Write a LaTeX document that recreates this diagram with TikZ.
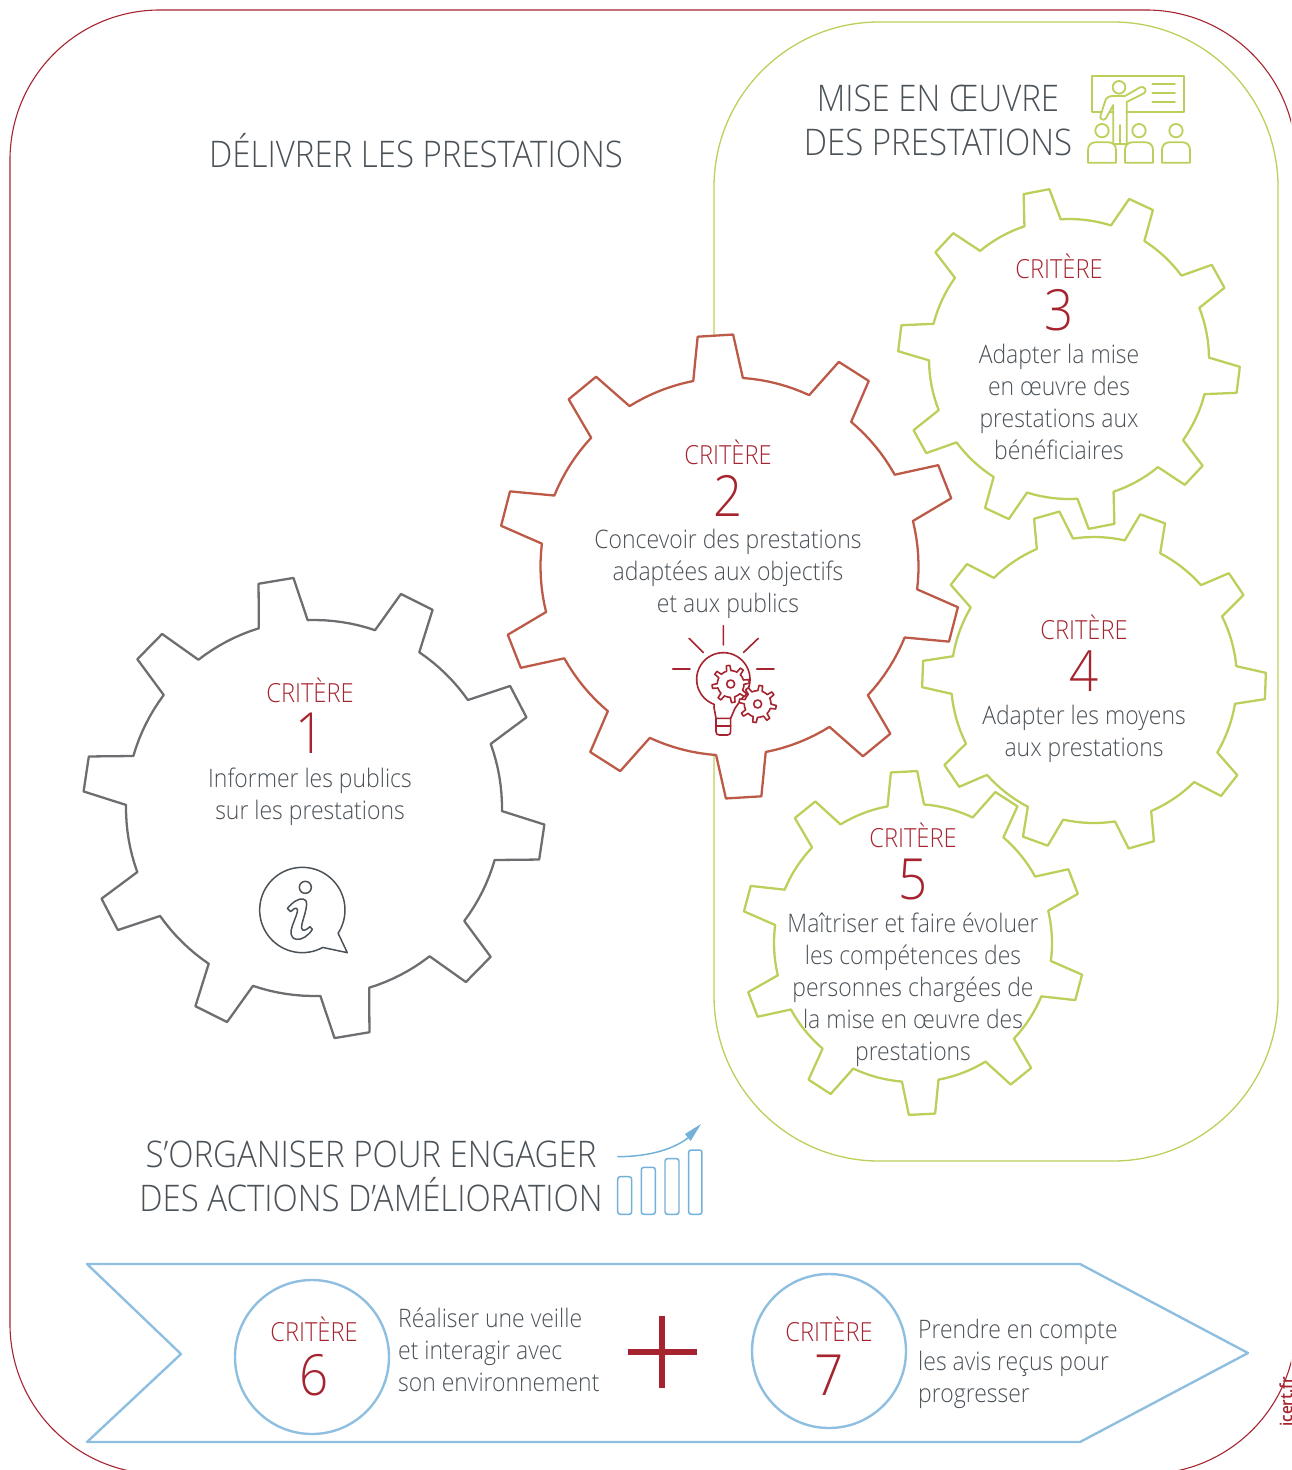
\documentclass[tikz,border=0pt]{standalone}
\usepackage{fontspec}
\setmainfont{Open Sans}[UprightFont=* Light,FakeStretch=0.9]
\definecolor{ink}{HTML}{4A5157}
\definecolor{crimson}{HTML}{A6242F}
\definecolor{framered}{HTML}{A6242F}
\definecolor{leaf}{HTML}{BCCF5A}
\definecolor{rust}{HTML}{BC5A47}
\definecolor{steel}{HTML}{6D6E71}
\definecolor{sky}{HTML}{8FBFE0}
\definecolor{skyicon}{HTML}{73B1D9}
\newcommand\gearshape[7]{%
 \begin{scope}[shift={(#1,#2)}]
 \def\pp{(360/#5)}\def\bb{(0.21*360/#5)}\def\tt{(0.122*360/#5)}
 \draw[#7] ({#6-90-\bb}:#3)
  \foreach \k in {1,...,#5}{
   -- ({#6-90+(\k-1)*\pp-\tt}:#4) -- ({#6-90+(\k-1)*\pp+\tt}:#4) -- ({#6-90+(\k-1)*\pp+\bb}:#3)
   \foreach \j in {1,...,7}{ -- ({#6-90+(\k-1)*\pp+\bb+\j/8*(\pp-2*\bb)}:#3) }
   -- ({#6-90+\k*\pp-\bb}:#3)
  } -- cycle;
 \end{scope}}
\tikzset{
 gearline/.style={line width=2.3pt,line join=round},
 bodytext/.style={font=\fontsize{25.6}{32}\selectfont,text=ink,align=center,inner sep=0pt},
 lefttext/.style={bodytext,align=left,anchor=west},
 titletext/.style={font=\fontsize{36.8}{44}\selectfont,text=ink,align=center,inner sep=0pt},
 crit/.style={font=\fontsize{26.4}{30}\selectfont,text=crimson,inner sep=0pt},
 numeral/.style={font=\fontsize{57}{60}\selectfont,text=crimson,inner sep=0pt},
 icongreen/.style={draw=leaf,line width=1.8pt,line join=round,line cap=round},
 iconred/.style={draw=crimson,line width=1.6pt,line join=round,line cap=round},
 icongrey/.style={draw=ink,line width=1.5pt,line join=round},
 iconblue/.style={draw=skyicon,line width=1.5pt},
 zoomscale/.style={x=0.3333bp,y=-0.3333bp},
}
\begin{document}
\begin{tikzpicture}[x=1bp,y=-1bp]
\useasboundingbox (0,0) rectangle (1291,1470);
\begin{scope}
\clip (0,0) rectangle (1291,1470);
% frames
\draw[framered,line width=1.1pt] (10,160) .. controls (10,77) and (77,10) .. (160,10) -- (1146,10) .. controls (1229,10) and (1296,77) .. (1296,160) -- (1296,1324) .. controls (1296,1407) and (1229,1474) .. (1146,1474) -- (160,1474) .. controls (77,1474) and (10,1407) .. (10,1324) -- cycle;
\draw[leaf,line width=1.3pt] (714,187) .. controls (714,96) and (788,22) .. (879,22) -- (1113,22) .. controls (1204,22) and (1278,96) .. (1278,187) -- (1278,996) .. controls (1278,1087) and (1204,1161) .. (1113,1161) -- (879,1161) .. controls (788,1161) and (714,1087) .. (714,996) -- cycle;
% gears
\gearshape{314}{808}{188}{231}{10}{-9.5}{gearline,draw=steel}
\gearshape{729.5}{566.5}{189}{232}{10}{-3.5}{gearline,draw=rust,fill=white}
\gearshape{1069}{359}{140}{171}{10}{-11}{gearline,draw=leaf}
\gearshape{1094}{680}{143}{172}{10}{-16}{gearline,draw=leaf}
\gearshape{913}{943}{139}{172}{10}{-3}{gearline,draw=leaf}
% arrow band
\draw[sky,line width=2.4pt,line join=round] (87,1264) -- (1080,1264) -- (1248,1353) -- (1080,1442) -- (87,1442) -- (181,1354) -- cycle;
\draw[sky,line width=2.4pt] (312,1357) circle[radius=77];
\draw[sky,line width=2.4pt] (829,1351) circle[radius=77];
\draw[crimson,line width=5.5pt] (628,1352) -- (697,1352);
\draw[crimson,line width=5.5pt] (662,1316) -- (662,1388);
% titles
\node[titletext] (t1) at (416,151) {DÉLIVRER LES PRESTATIONS};
\node[titletext] (t2) at (938,120) {MISE EN ŒUVRE\\DES PRESTATIONS};
\node[titletext] (t3) at (371,1176) {S’ORGANISER POUR ENGAGER\\DES ACTIONS D’AMÉLIORATION};
% gear texts
\node[crit] (c1) at (310,690) {CRITÈRE};
\node[numeral] (n1) at (310,733) {1};
\node[bodytext] (b1) at (310,797) {Informer les publics\\sur les prestations};
\node[crit] (c2) at (728,452) {CRITÈRE};
\node[numeral] (n2) at (728,496) {2};
\node[bodytext] (b2) at (728,574) {Concevoir des prestations\\adaptées aux objectifs\\et aux publics};
\node[crit] (c3) at (1059,266) {CRITÈRE};
\node[numeral] (n3) at (1059,310) {3};
\node[bodytext] (b3) at (1059,402) {Adapter la mise\\en œuvre des\\prestations aux\\bénéficiaires};
\node[crit] (c4) at (1084,627) {CRITÈRE};
\node[numeral] (n4) at (1084,671) {4};
\node[bodytext] (b4) at (1084,734) {Adapter les moyens\\aux prestations};
\node[crit] (c5) at (913,835) {CRITÈRE};
\node[numeral] (n5) at (913,879) {5};
\node[bodytext] (b5) at (913,990) {Maîtriser et faire évoluer\\les compétences des\\personnes chargées de\\la mise en œuvre des\\prestations};
\node[crit] (c6) at (314,1329) {CRITÈRE};
\node[numeral] (n6) at (314,1375) {6};
\node[lefttext] (b6) at (398,1350) {Réaliser une veille\\et interagir avec\\son environnement};
\node[crit] (c7) at (829,1329) {CRITÈRE};
\node[numeral] (n7) at (829,1375) {7};
\node[lefttext] (b7) at (918,1364) {Prendre en compte\\les avis reçus pour\\progresser};
\node[rotate=90,font=\fontsize{17}{20}\selectfont\bfseries,text=crimson,inner sep=0pt] (credit) at (1286,1402) {icert.fr};
% teacher icon
\begin{scope}[shift={(1070,60)},zoomscale]
 \draw[icongreen] (66,47) rectangle (343,157);
 \draw[icongreen] (247,72) -- (315,72) (247,100) -- (315,100) (247,126) -- (315,126);
 \draw[icongreen,fill=white] (130,252) -- (130,135) -- (107,176) .. controls (100,184) and (86,176) .. (92,165) -- (104,128) .. controls (106,115) and (115,108) .. (128,108) -- (165,108) -- (210,82) .. controls (222,76) and (234,92) .. (222,100) -- (170,126) -- (170,252) -- cycle;
 \draw[icongreen] (150,195) -- (150,252);
 \draw[icongreen,fill=white] (147,82) circle[radius=19];
 \foreach \cx in {96,207,318}{
  \draw[icongreen] (\cx,212) circle[radius=20];
  \draw[icongreen] (\cx-42,308) -- (\cx-42,270) .. controls (\cx-42,255) and (\cx-32,247) .. (\cx-20,247) -- (\cx+20,247) .. controls (\cx+32,247) and (\cx+42,255) .. (\cx+42,270) -- (\cx+42,308) -- cycle;
 }
\end{scope}
% bulb icon
\begin{scope}[shift={(660,620)},zoomscale]
 \draw[iconred] (190,17) -- (190,75) (87,55) -- (130,98) (295,55) -- (250,98) (38,147) -- (90,147) (290,147) -- (342,147);
 \draw[iconred] (168,295) -- (162,262) -- plot[domain=110:405,samples=50] ({190+80*cos(\x)},{178+80*sin(\x)}) -- (225,265) -- (212,295);
 \draw[iconred] (168,295) -- (212,295) -- (212,335) .. controls (212,342) and (208,345) .. (202,345) -- (178,345) .. controls (172,345) and (168,342) .. (168,335) -- cycle;
 \draw[iconred] (168,318) -- (212,318);
 \gearshape{212}{192}{40}{56}{8}{-8}{iconred,fill=white}
 \draw[iconred] (212,192) circle[radius=12];
 \gearshape{293}{252}{40}{56}{8}{10}{iconred,fill=white}
 \draw[iconred] (293,252) circle[radius=12];
\end{scope}
% info bubble
\begin{scope}[shift={(240,850)},zoomscale]
 \draw[icongrey] plot[domain=61.4:393,samples=70] ({187+128*cos(\x)},{180+128*sin(\x)}) -- (322,308) -- cycle;
 \draw[icongrey] (196,112) circle[radius=18];
 \draw[icongrey] (142,175) .. controls (160,155) and (175,145) .. (190,147) .. controls (205,150) and (200,170) .. (195,190) .. controls (188,215) and (180,235) .. (188,240) .. controls (195,243) and (205,235) .. (210,230) -- (217,238) .. controls (205,258) and (185,270) .. (170,268) .. controls (150,265) and (150,245) .. (158,225) .. controls (165,205) and (175,185) .. (172,178) .. controls (168,170) and (160,178) .. (152,185) -- cycle;
\end{scope}
% chart icon
\begin{scope}[shift={(600,1110)},zoomscale]
 \foreach \xa/\xb/\yt in {53/95/200,124/166/172,195/237/146,266/306/120}{
  \draw[iconblue] (\xa+8,\yt) -- (\xb-8,\yt) .. controls (\xb-3,\yt) and (\xb,\yt+3) .. (\xb,\yt+8) -- (\xb,305) .. controls (\xb,310) and (\xb-3,313) .. (\xb-8,313) -- (\xa+8,313) .. controls (\xa+3,313) and (\xa,310) .. (\xa,305) -- (\xa,\yt+8) .. controls (\xa,\yt+3) and (\xa+3,\yt) .. (\xa+8,\yt) -- cycle;
 }
 \draw[iconblue] (52,140) .. controls (130,140) and (210,125) .. (265,83);
 \fill[skyicon] (303,42) -- (255,72) -- (272,93) -- cycle;
\end{scope}
\end{scope}
\end{tikzpicture}
\end{document}
